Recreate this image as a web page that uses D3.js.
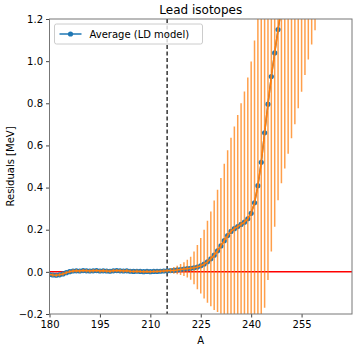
<!DOCTYPE html>
<html>
<head>
<meta charset="utf-8">
<script src="https://cdn.jsdelivr.net/npm/d3@7"></script>
<style>
  body { margin: 0; background: #fff; }
  text { font-family: "DejaVu Sans", sans-serif; }
</style>
</head>
<body>
<svg id="chart" width="357" height="348"></svg>
<script>
// mass numbers A of the lead chain
const massNumbers = [
  180, 181, 182, 183, 184, 185, 186, 187, 188, 189,
  190, 191, 192, 193, 194, 195, 196, 197, 198, 199,
  200, 201, 202, 203, 204, 205, 206, 207, 208, 209,
  210, 211, 212, 213, 214, 215, 216, 217, 218, 219,
  220, 221, 222, 223, 224, 225, 226, 227, 228, 229,
  230, 231, 232, 233, 234, 235, 236, 237, 238, 239,
  240, 241, 242, 243, 244, 245, 246, 247, 248, 249,
  250, 251, 252, 253, 254, 255, 256, 257, 258, 259
];

// average residual (MeV)
const residuals = [
  -0.013, -0.015, -0.016, -0.014, -0.010, -0.004, 0.001, 0.004, 0.005, 0.004,
  0.006, 0.005, 0.004, 0.005, 0.006, 0.004, 0.005, 0.004, 0.003, 0.005,
  0.006, 0.005, 0.004, 0.005, 0.003, 0.002, 0.003, 0.002, 0.001, 0.002,
  0.001, 0.002, 0.002, 0.003, 0.004, 0.005, 0.006, 0.007, 0.009, 0.011,
  0.013, 0.015, 0.017, 0.019, 0.023, 0.029, 0.037, 0.048, 0.062, 0.079,
  0.100, 0.123, 0.148, 0.172, 0.192, 0.205, 0.215, 0.225, 0.236, 0.252,
  0.278, 0.328, 0.409, 0.520, 0.660, 0.796, 0.927, 1.039, 1.150, 1.25,
  1.32, 1.39, 1.46, 1.53, 1.61, 1.69, 1.76, 1.84, 1.91, 1.98
];

// spread between models (MeV)
const errors = [
  0.008, 0.008, 0.008, 0.008, 0.008, 0.008, 0.008, 0.008, 0.008, 0.008,
  0.008, 0.008, 0.008, 0.008, 0.008, 0.008, 0.008, 0.008, 0.008, 0.008,
  0.008, 0.008, 0.008, 0.008, 0.008, 0.008, 0.008, 0.008, 0.008, 0.008,
  0.008, 0.008, 0.008, 0.008, 0.008, 0.008, 0.012, 0.016, 0.020, 0.026,
  0.033, 0.042, 0.055, 0.078, 0.105, 0.132, 0.163, 0.195, 0.225, 0.260,
  0.290, 0.322, 0.365, 0.405, 0.445, 0.485, 0.530, 0.575, 0.620, 0.670,
  0.720, 0.770, 0.810, 0.830, 0.830, 0.835, 0.830, 0.825, 0.810, 0.830,
  0.830, 0.830, 0.826, 0.830, 0.834, 0.835, 0.826, 0.832, 0.831, 0.833
];

const xTicks = [180, 195, 210, 225, 240, 255];
const yTicks = [-0.2, 0.0, 0.2, 0.4, 0.6, 0.8, 1.0, 1.2];
const magicA = 215;

const margin = { top: 19, right: 5, bottom: 34, left: 49.5 },
  width = 357 - margin.left - margin.right,
  height = 348 - margin.top - margin.bottom;

const blue = "#1f77b4", orange = "#ff7f0e";

const data = massNumbers.map((a, i) => ({ a: a, y: residuals[i], e: errors[i] }));

const svg = d3.select("#chart");
const g = svg.append("g").attr("transform", `translate(${margin.left},${margin.top})`);

const x = d3.scaleLinear().domain([180, 270]).range([0, width]);
const y = d3.scaleLinear().domain([-0.2, 1.2]).range([height, 0]);

g.append("clipPath").attr("id", "clip")
  .append("rect").attr("width", width).attr("height", height);

const plot = g.append("g").attr("clip-path", "url(#clip)");

// zero line
plot.append("line")
  .attr("x1", 0).attr("x2", width)
  .attr("y1", y(0)).attr("y2", y(0))
  .attr("stroke", "red").attr("stroke-width", 1.5);

// magic number
plot.append("line")
  .attr("x1", x(magicA)).attr("x2", x(magicA))
  .attr("y1", 0).attr("y2", height)
  .attr("stroke", "#333").attr("stroke-width", 1.5)
  .attr("stroke-dasharray", "4,2.5");

const line = d3.line().x(d => x(d.a)).y(d => y(d.y));

plot.append("path").datum(data)
  .attr("d", line).attr("fill", "none")
  .attr("stroke", blue).attr("stroke-width", 1.5);

plot.selectAll(".pt").data(data).enter().append("circle")
  .attr("class", "pt")
  .attr("cx", d => x(d.a)).attr("cy", d => y(d.y))
  .attr("r", 2.6).attr("fill", blue);

plot.selectAll(".err").data(data).enter().append("line")
  .attr("class", "err")
  .attr("x1", d => x(d.a)).attr("x2", d => x(d.a))
  .attr("y1", d => y(d.y - d.e)).attr("y2", d => y(d.y + d.e))
  .attr("stroke", orange).attr("stroke-opacity", 0.75).attr("stroke-width", 1.5);

plot.append("path").datum(data)
  .attr("d", line).attr("fill", "none")
  .attr("stroke", orange).attr("stroke-width", 1.5);

// axes
const fmt = d3.format(".1f");
const xAxis = g.append("g").attr("transform", `translate(0,${height})`)
  .call(d3.axisBottom(x).tickValues(xTicks).tickSize(3.5).tickPadding(3));
const yAxis = g.append("g")
  .call(d3.axisLeft(y).tickValues(yTicks).tickSize(3.5).tickPadding(3)
    .tickFormat(d => fmt(d).replace("-", "\u2212")));

[xAxis, yAxis].forEach(ax => {
  ax.select(".domain").remove();
  ax.selectAll("line").attr("stroke", "#444");
  ax.selectAll("text").attr("font-size", 10).attr("fill", "#000")
    .attr("font-family", "DejaVu Sans");
});

g.append("rect")
  .attr("width", width).attr("height", height)
  .attr("fill", "none").attr("stroke", "#777").attr("stroke-width", 1);

// labels
g.append("text")
  .attr("x", width / 2).attr("y", -5)
  .attr("text-anchor", "middle").attr("font-size", 12)
  .text("Lead isotopes");

g.append("text")
  .attr("x", width / 2).attr("y", height + 30)
  .attr("text-anchor", "middle").attr("font-size", 10)
  .text("A");

g.append("text")
  .attr("transform", `translate(${-36},${height / 2}) rotate(-90)`)
  .attr("text-anchor", "middle").attr("font-size", 10)
  .text("Residuals [MeV]");

// legend
const lg = g.append("g").attr("transform", "translate(5,5)");
lg.append("rect")
  .attr("width", 148).attr("height", 20).attr("rx", 2)
  .attr("fill", "#fff").attr("fill-opacity", 0.8)
  .attr("stroke", "#ccc");
lg.append("line")
  .attr("x1", 5).attr("x2", 27).attr("y1", 10).attr("y2", 10)
  .attr("stroke", blue).attr("stroke-width", 1.5);
lg.append("circle").attr("cx", 16).attr("cy", 10).attr("r", 2.6).attr("fill", blue);
lg.append("text")
  .attr("x", 35).attr("y", 13.5).attr("font-size", 10)
  .text("Average (LD model)");
</script>
</body>
</html>
